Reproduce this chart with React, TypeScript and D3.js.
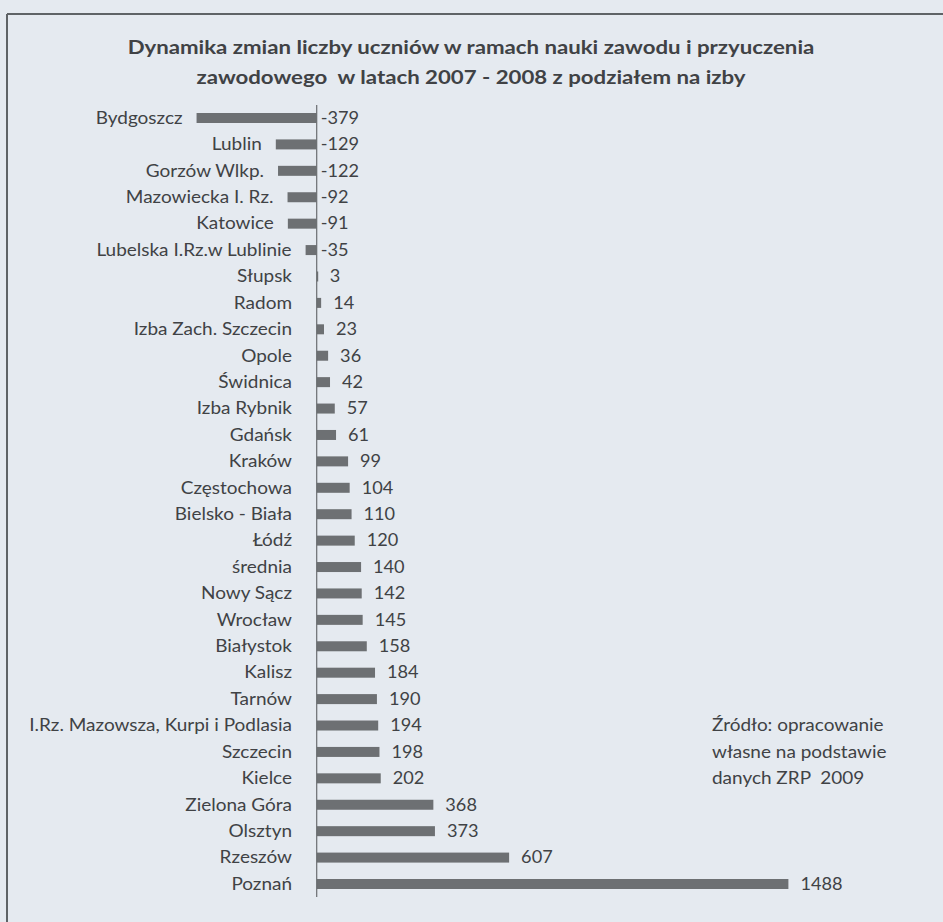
import React from "react";
import * as d3 from "d3";

const titleLines = [
  "Dynamika zmian liczby uczniów w ramach nauki zawodu i przyuczenia",
  "zawodowego  w latach 2007 - 2008 z podziałem na izby",
];

const categories = [
  "Bydgoszcz",
  "Lublin",
  "Gorzów Wlkp.",
  "Mazowiecka I. Rz.",
  "Katowice",
  "Lubelska I.Rz.w Lublinie",
  "Słupsk",
  "Radom",
  "Izba Zach. Szczecin",
  "Opole",
  "Świdnica",
  "Izba Rybnik",
  "Gdańsk",
  "Kraków",
  "Częstochowa",
  "Bielsko - Biała",
  "Łódź",
  "średnia",
  "Nowy Sącz",
  "Wrocław",
  "Białystok",
  "Kalisz",
  "Tarnów",
  "I.Rz. Mazowsza, Kurpi i Podlasia",
  "Szczecin",
  "Kielce",
  "Zielona Góra",
  "Olsztyn",
  "Rzeszów",
  "Poznań",
];

const values = [
  -379, -129, -122, -92, -91, -35, 3, 14, 23, 36, 42, 57, 61, 99, 104, 110,
  120, 140, 142, 145, 158, 184, 190, 194, 198, 202, 368, 373, 607, 1488,
];

const sourceLines = ["Źródło: opracowanie", "własne na podstawie", "danych ZRP  2009"];

const W = 943;
const H = 922;
const FONT = "Lato, 'Open Sans', sans-serif";
const TEXT = "#404245";
const BAR = "#6d7073";
const BG = "#e5eaf0";

function SText(props: {
  x: number;
  y: number;
  sx: number;
  anchor?: "start" | "middle" | "end";
  size: number;
  weight?: number;
  children: React.ReactNode;
}) {
  const { x, y, sx, anchor = "start", size, weight = 400, children } = props;
  return (
    <text
      transform={`translate(${x},${y}) scale(${sx},1)`}
      dy="0.35em"
      textAnchor={anchor}
      fontSize={size}
      fontWeight={weight}
      fill={TEXT}
      style={{ whiteSpace: "pre" }}
    >
      {children}
    </text>
  );
}

export default function App() {
  const x = d3.scaleLinear().domain([-400, 1500]).range([189.9, 792.2]);
  const y = d3.scalePoint<string>().domain(categories).range([118, 884]);
  const barH = 10;
  const x0 = x(0);
  const labelRight = 292;
  const sx = 1.15;
  const fs = 16.5;

  return (
    <svg
      width={W}
      height={H}
      viewBox={`0 0 ${W} ${H}`}
      style={{ position: "absolute", left: 0, top: 0, display: "block" }}
      fontFamily={FONT}
    >
      <rect x={0} y={0} width={W} height={H} fill={BG} />
      {/* frame */}
      <line x1={7} x2={W} y1={14} y2={14} stroke="#5f6366" strokeWidth={2} />
      <line x1={7} x2={7} y1={14} y2={H} stroke="#5f6366" strokeWidth={2} />

      {titleLines.map((t, i) => (
        <SText key={i} x={471} y={47 + i * 30} sx={1.17} anchor="middle" size={19} weight={700}>
          {t}
        </SText>
      ))}

      {categories.map((c, i) => {
        const v = values[i];
        const cy = y(c) as number;
        const xa = x(Math.min(0, v));
        const xb = x(Math.max(0, v));
        const lx = Math.min(labelRight, xa - 14);
        const vx = v < 0 ? x0 + 4 : xb + 12;
        return (
          <g key={c}>
            <rect x={xa} y={cy - barH / 2} width={Math.max(xb - xa, 1.5)} height={barH} fill={BAR} />
            <SText x={lx} y={cy} sx={sx} anchor="end" size={fs}>
              {c}
            </SText>
            <SText x={vx} y={cy} sx={1.1} anchor="start" size={fs}>
              {String(v)}
            </SText>
          </g>
        );
      })}

      <line x1={x0} x2={x0} y1={105} y2={897} stroke="#6a6d70" strokeWidth={1.2} />

      {sourceLines.map((t, i) => (
        <SText key={i} x={712} y={(y(categories[23 + i]) as number)} sx={sx} size={fs}>
          {t}
        </SText>
      ))}
    </svg>
  );
}
